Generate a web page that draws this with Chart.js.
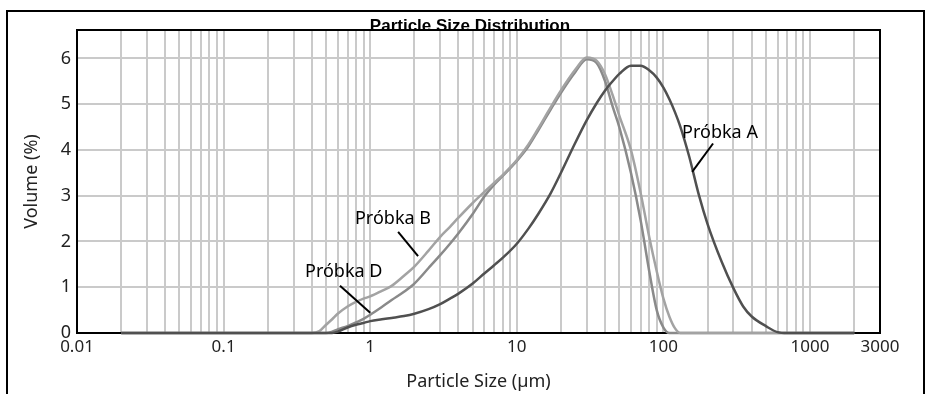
<!DOCTYPE html>
<html>
<head>
<meta charset="utf-8">
<script src="https://cdn.jsdelivr.net/npm/chart.js@4.4.1/dist/chart.umd.min.js"></script>
<style>
  html, body { margin: 0; padding: 0; background: #fff; overflow: hidden; }
  #wrap { position: relative; width: 925px; height: 394px; }
  #chart { position: absolute; left: 0; top: 0; }
  #frame {
    position: absolute; left: 6px; top: 10px; width: 915px; height: 400px;
    border: 2px solid #000; pointer-events: none;
  }
</style>
</head>
<body>
<div id="wrap">
  <canvas id="chart" width="925" height="394"></canvas>
  <div id="frame"></div>
</div>
<script>
// particle sizes (µm)
const sizes = [0.02, 0.4, 0.45, 0.5, 0.55, 0.6, 0.7, 0.8, 0.9, 1, 1.2, 1.4, 1.7, 2, 2.5, 3, 3.5, 4, 5, 6, 7, 8,
    10, 12, 14, 17, 20, 25, 30, 35, 40, 45, 50, 60, 70, 80, 90, 100, 110, 120, 130, 150, 175, 200, 250, 300,
    350, 400, 500, 600, 700, 2000];

// volume (%) per sample
const probkaA = [0, 0, 0, 0, 0, 0.03, 0.12, 0.18, 0.22, 0.26, 0.3, 0.33, 0.37, 0.42, 0.52, 0.63, 0.75, 0.86, 1.08, 1.3, 1.48, 1.64,
    1.95, 2.28, 2.6, 3.05, 3.5, 4.15, 4.65, 5.02, 5.3, 5.5, 5.66, 5.84, 5.84, 5.74, 5.58, 5.36, 5.1, 4.82, 4.52, 3.85, 3.0, 2.38, 1.55, 0.98,
    0.58, 0.36, 0.15, 0.02, 0, 0];
const probkaB = [0, 0, 0.04, 0.18, 0.3, 0.42, 0.58, 0.68, 0.75, 0.8, 0.92, 1.03, 1.25, 1.45, 1.8, 2.1, 2.32, 2.52, 2.84, 3.08, 3.28, 3.45,
    3.78, 4.12, 4.47, 4.93, 5.3, 5.75, 6.02, 5.95, 5.65, 5.2, 4.75, 4.0, 3.05, 2.1, 1.35, 0.75, 0.35, 0.1, 0, 0, 0, 0, 0, 0,
    0, 0, 0, 0, 0, 0];
const probkaD = [0, 0, 0, 0, 0.03, 0.08, 0.15, 0.23, 0.31, 0.4, 0.57, 0.72, 0.9, 1.08, 1.42, 1.7, 1.95, 2.18, 2.6, 2.98, 3.24, 3.43,
    3.76, 4.08, 4.43, 4.88, 5.25, 5.7, 5.98, 5.9, 5.5, 4.95, 4.5, 3.5, 2.45, 1.35, 0.5, 0.12, 0, 0, 0, 0, 0, 0, 0, 0,
    0, 0, 0, 0, 0, 0];

const xLabels = [0.01, 0.1, 1, 10, 100, 1000, 3000];
const yTicks = [0, 1, 2, 3, 4, 5, 6];

// labels with leader lines, in data units: [text, textX, textY, lineX1, lineY1, lineX2, lineY2]
const callouts = [
    ['Próbka A', 134, 4.38, 218, 4.14, 157, 3.52],
    ['Próbka B', 0.787, 2.49, 1.55, 2.21, 2.12, 1.68],
    ['Próbka D', 0.359, 1.33, 0.622, 1.03, 1.0, 0.44]
];

const FONT = '"Noto Sans", "Open Sans", sans-serif';

function series(values) {
    return values.map((v, i) => ({ x: sizes[i], y: v }));
}

function logGridTicks() {
    const ticks = [];
    for (let e = -2; e <= 3; e++) {
        for (let m = 1; m <= 9; m++) {
            const v = m * Math.pow(10, e);
            if (v <= 3000) ticks.push({ value: v });
        }
    }
    return ticks;
}

const framePlugin = {
    id: 'frame',
    beforeDatasetsDraw(chart) {
        const { ctx, chartArea: a } = chart;
        ctx.save();
        ctx.strokeStyle = '#000';
        ctx.lineWidth = 2;
        ctx.strokeRect(a.left, a.top, a.right - a.left, a.bottom - a.top);
        ctx.restore();
    },
    afterDraw(chart) {
        const { ctx, chartArea: a, scales } = chart;
        ctx.save();
        // title
        ctx.fillStyle = '#000';
        ctx.font = 'bold 17px "Liberation Sans Narrow", "Liberation Sans", sans-serif';
        ctx.textAlign = 'center';
        ctx.textBaseline = 'alphabetic';
        ctx.fillText('Particle Size Distribution', 470, a.top + 1);
        // callouts
        ctx.font = '18px ' + FONT;
        ctx.textAlign = 'left';
        ctx.textBaseline = 'middle';
        ctx.strokeStyle = '#000';
        ctx.lineWidth = 2;
        callouts.forEach(c => {
            ctx.fillText(c[0], scales.x.getPixelForValue(c[1]), scales.y.getPixelForValue(c[2]));
            ctx.beginPath();
            ctx.moveTo(scales.x.getPixelForValue(c[3]), scales.y.getPixelForValue(c[4]));
            ctx.lineTo(scales.x.getPixelForValue(c[5]), scales.y.getPixelForValue(c[6]));
            ctx.stroke();
        });
        ctx.restore();
    }
};

const ctx = document.getElementById('chart');
new Chart(ctx, {
    type: 'line',
    data: {
        datasets: [
            { label: 'Próbka A', data: series(probkaA), borderColor: '#505050', borderWidth: 2.5 },
            { label: 'Próbka B', data: series(probkaB), borderColor: '#a3a3a3', borderWidth: 2.5 },
            { label: 'Próbka D', data: series(probkaD), borderColor: '#8a8a8a', borderWidth: 2.5 }
        ]
    },
    options: {
        responsive: false,
        animation: false,
        layout: { padding: { top: 30, right: 45, left: 0, bottom: 0 } },
        elements: {
            point: { radius: 0 },
            line: { cubicInterpolationMode: 'monotone', fill: false }
        },
        datasets: { line: { clip: false } },
        plugins: {
            legend: { display: false },
            tooltip: { enabled: false }
        },
        scales: {
            x: {
                type: 'logarithmic',
                min: 0.01,
                max: 3000,
                afterBuildTicks: scale => { scale.ticks = logGridTicks(); },
                afterFit: scale => { scale.height = 61; },
                border: { display: false },
                grid: { color: '#cacaca', lineWidth: 2, drawTicks: false },
                ticks: {
                    autoSkip: false,
                    maxRotation: 0,
                    padding: 4,
                    color: '#222',
                    font: { family: FONT, size: 17 },
                    callback: v => {
                        const hit = xLabels.find(l => Math.abs(l - v) / l < 1e-6);
                        return hit === undefined ? '' : String(hit);
                    }
                },
                title: {
                    display: true,
                    text: 'Particle Size (µm)',
                    color: '#222',
                    font: { family: FONT, size: 18 },
                    padding: { top: 0, bottom: 1 }
                }
            },
            y: {
                min: 0,
                max: 6.62,
                afterBuildTicks: scale => { scale.ticks = yTicks.map(v => ({ value: v })); },
                afterFit: scale => { scale.width = 77; },
                border: { display: false },
                grid: { color: '#cacaca', lineWidth: 2, drawTicks: false },
                ticks: {
                    padding: 6,
                    color: '#222',
                    font: { family: FONT, size: 18 }
                },
                title: {
                    display: true,
                    text: 'Volume (%)',
                    color: '#222',
                    font: { family: FONT, size: 18 },
                    padding: { top: 21, bottom: 0 }
                }
            }
        }
    },
    plugins: [framePlugin]
});
</script>
</body>
</html>
